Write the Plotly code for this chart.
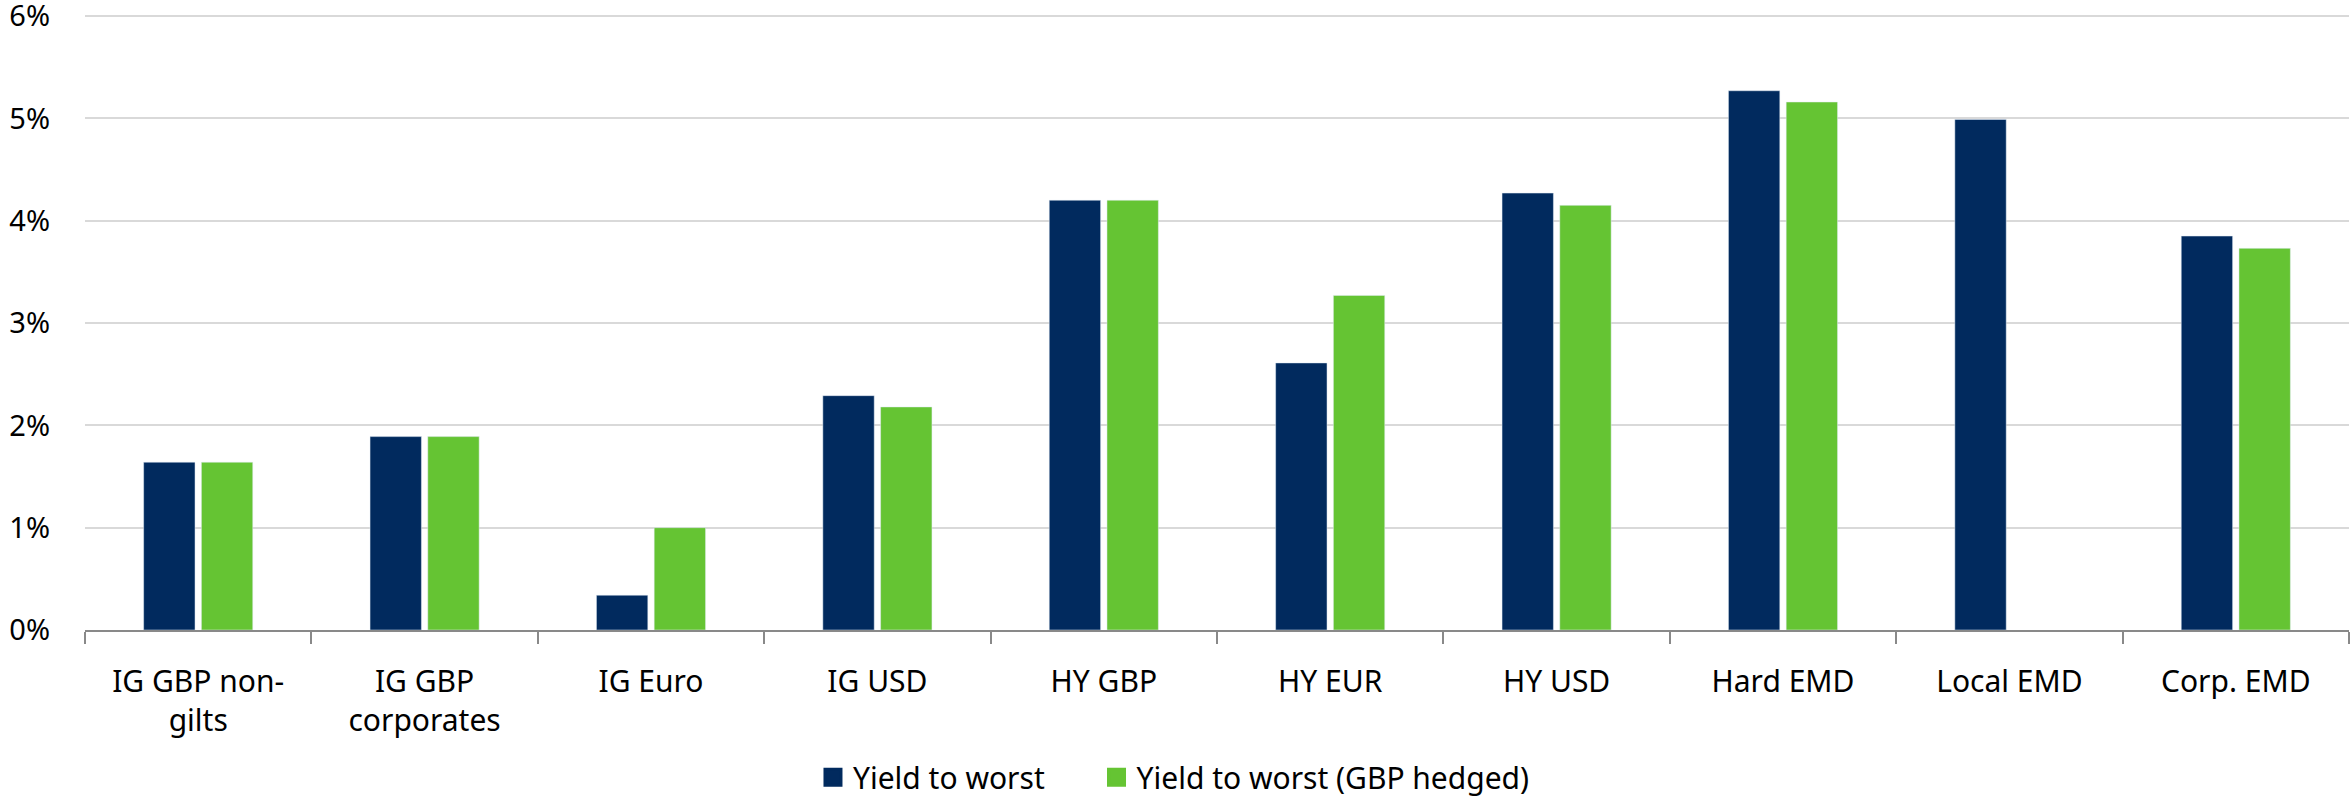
import plotly.graph_objects as go

categories = ["IG GBP non-<br>gilts", "IG GBP<br>corporates", "IG Euro", "IG USD", "HY GBP",
              "HY EUR", "HY USD", "Hard EMD", "Local EMD", "Corp. EMD"]
ytw = [1.64, 1.89, 0.34, 2.29, 4.20, 2.61, 4.27, 5.27, 4.99, 3.85]
ytw_hedged = [1.64, 1.89, 1.00, 2.18, 4.20, 3.27, 4.15, 5.16, None, 3.73]
y_ticks = [0, 1, 2, 3, 4, 5, 6]
y_ticktext = ["0%", "1%", "2%", "3%", "4%", "5%", "6%"]
series_names = ["Yield to worst", "Yield to worst (GBP hedged)"]

NAVY = "#012A5E"
GREEN = "#65C433"
FONT = "Noto Sans"

fig = go.Figure()
fig.add_trace(go.Bar(x=categories, y=ytw, name=series_names[0], marker_color=NAVY, showlegend=False))
fig.add_trace(go.Bar(x=categories, y=ytw_hedged, name=series_names[1], marker_color=GREEN, showlegend=False))
# legend entries with larger square swatches
legend_labels = [series_names[0] + "&nbsp;" * 6, series_names[1]]
for nm, col in zip(legend_labels, [NAVY, GREEN]):
    fig.add_trace(go.Scatter(x=[None], y=[None], mode="markers", name=nm,
                             marker=dict(symbol="square", size=16, color=col,
                                         line=dict(color=col, width=3))))

fig.update_layout(
    width=2352, height=800,
    margin=dict(l=85, r=3, t=14, b=170, autoexpand=False),
    paper_bgcolor="white", plot_bgcolor="white",
    font=dict(family=FONT, size=30, color="#000000"),
    bargap=0.49, bargroupgap=0.11,
    showlegend=True,
    legend=dict(orientation="h", x=0.481, xanchor="center",
                y=-0.239, yanchor="middle",
                font=dict(size=30), itemsizing="trace", traceorder="normal",
                tracegroupgap=0),
    xaxis=dict(showline=True, linecolor="#898989", linewidth=2, automargin=False,
               ticks="outside", tickson="boundaries", ticklen=12, tickcolor="#898989",
               tickwidth=2, showgrid=False, ticklabelstandoff=24),
    yaxis=dict(range=[0, 6.02], tickvals=y_ticks, ticktext=y_ticktext, automargin=False,
               showgrid=True, gridcolor="#D9D9D9", gridwidth=1.5,
               tickfont=dict(size=29), ticklabeloverflow="allow",
               zeroline=False, showline=False, ticks="", ticklabelstandoff=34),
)

fig.write_html("out.html", config={"displayModeBar": False},
               post_script="document.body.style.margin='0px';document.body.style.overflow='hidden';")
